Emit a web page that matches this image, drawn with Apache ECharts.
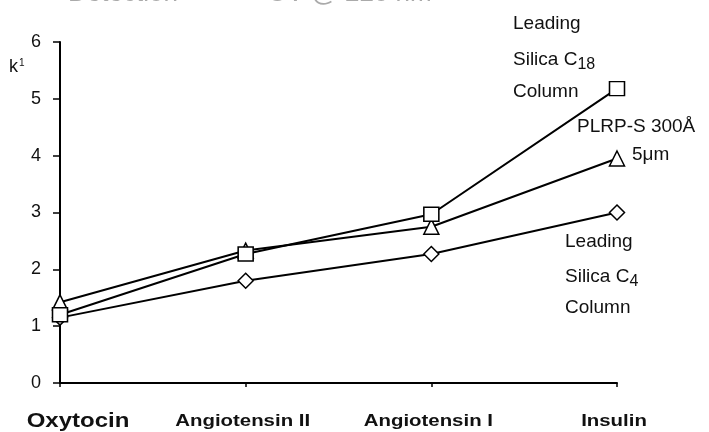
<!DOCTYPE html>
<html>
<head>
<meta charset="utf-8">
<script src="https://cdn.jsdelivr.net/npm/echarts@6/dist/echarts.min.js"></script>
<style>
  html, body { margin: 0; padding: 0; background: #fff; }
  #main { width: 709px; height: 432px; }
</style>
</head>
<body>
<div id="main"></div>
<script>
// peptides along x
var categories = ['Oxytocin', 'Angiotensin II', 'Angiotensin I', 'Insulin'];
// k' values
var silicaC18 = [1.2, 2.27, 2.97, 5.18];
var plrpS = [1.42, 2.33, 2.75, 3.95];
var silicaC4 = [1.15, 1.8, 2.27, 3.0];
var yTicks = [0, 1, 2, 3, 4, 5, 6];

var chart = echarts.init(document.getElementById('main'));
var font = 'Liberation Sans, Arial, sans-serif';

function lineSeries(name, data, symbol, size) {
  return {
    name: name,
    type: 'line',
    data: data,
    symbol: symbol,
    symbolSize: size,
    showAllSymbol: true,
    lineStyle: { color: '#000', width: 2 },
    itemStyle: { color: '#fff', borderColor: '#000', borderWidth: 1.5 },
    z: 3,
    animation: false
  };
}

function note(x, y, text) {
  return { type: 'text', x: x, y: y, style: { text: text, font: '19px ' + font, fill: '#111', verticalAlign: 'middle' } };
}

function noteSub(x, y, main, sub) {
  return {
    type: 'text', x: x, y: y,
    style: {
      text: '{a|' + main + '}{b|' + sub + '}', verticalAlign: 'middle',
      rich: {
        a: { fontFamily: font, fontSize: 19, fill: '#111' },
        b: { fontFamily: font, fontSize: 16, fill: '#111', padding: [10, 0, 0, 0] }
      }
    }
  };
}

var option = {
  backgroundColor: '#fff',
  animation: false,
  grid: { left: 60, right: 92, top: 42, bottom: 49 },
  xAxis: {
    type: 'category',
    data: categories,
    boundaryGap: false,
    axisLine: { lineStyle: { color: '#000', width: 2 } },
    axisTick: { show: true, alignWithLabel: true, length: 4, lineStyle: { color: '#000', width: 1.5 } },
    axisLabel: { show: false },
    splitLine: { show: false }
  },
  yAxis: {
    type: 'value',
    min: yTicks[0],
    max: yTicks[yTicks.length - 1],
    interval: 1,
    axisLine: { show: true, lineStyle: { color: '#000', width: 2 } },
    axisTick: { show: true, length: 7, lineStyle: { color: '#000', width: 1.5 } },
    axisLabel: { margin: 19, fontFamily: font, fontSize: 18, color: '#111' },
    splitLine: { show: false }
  },
  series: [
    lineSeries('Leading Silica C4 Column', silicaC4, 'diamond', [15, 15]),
    lineSeries('PLRP-S 300Å 5μm', plrpS, 'triangle', [15, 15]),
    lineSeries('Leading Silica C18 Column', silicaC18, 'rect', [15, 14])
  ]
};

chart.setOption(option);

// category labels: the scan is stretched sideways, so draw them scaled
var baseY = chart.convertToPixel({ yAxisIndex: 0 }, 0);
var labels = categories.map(function (c, i) {
  var x = chart.convertToPixel({ xAxisIndex: 0 }, c);
  var first = i === 0;
  return {
    type: 'text',
    x: first ? x + 18 : x - 3,
    y: baseY + 38,
    scaleX: 1.2,
    style: {
      text: c,
      font: (first ? 'bold 20px ' : 'bold 17px ') + font,
      fill: '#111',
      align: 'center',
      verticalAlign: 'middle'
    }
  };
});

chart.setOption({
  graphic: labels.concat([
    { type: 'text', x: 68, y: 7, style: { text: 'Detection', font: '26px ' + font, fill: '#aaa', verticalAlign: 'bottom' } },
    { type: 'text', x: 268, y: 7, style: { text: 'UV @ 220 nm', font: '26px ' + font, fill: '#aaa', verticalAlign: 'bottom' } },
    {
      type: 'text', x: 9, y: 58,
      style: {
        text: '{k|k}{s|1}',
        rich: {
          k: { fontFamily: font, fontSize: 18, fill: '#111' },
          s: { fontFamily: font, fontSize: 10, fill: '#111', padding: [0, 0, 9, 1] }
        }
      }
    },
    note(513, 24, 'Leading'),
    noteSub(513, 60, 'Silica C', '18'),
    note(513, 92, 'Column'),
    note(577, 127, 'PLRP-S 300Å'),
    note(632, 155, '5μm'),
    note(565, 242, 'Leading'),
    noteSub(565, 277, 'Silica C', '4'),
    note(565, 308, 'Column')
  ])
});
</script>
</body>
</html>
